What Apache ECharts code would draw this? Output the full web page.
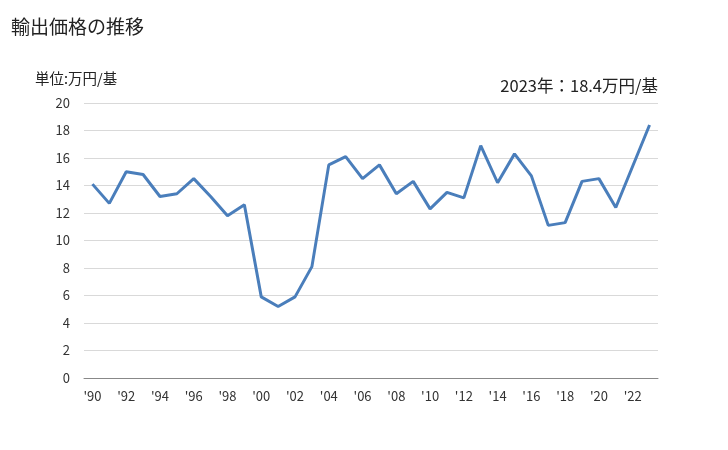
<!DOCTYPE html>
<html><head><meta charset="utf-8">
<script src="https://cdn.jsdelivr.net/npm/echarts@6/dist/echarts.min.js"></script>
<style>html,body{margin:0;padding:0;background:#fff}#c{width:728px;height:450px}</style>
</head><body><div id="c"></div>
<script>
const years = ["'90","'91","'92","'93","'94","'95","'96","'97","'98","'99","'00","'01","'02","'03","'04","'05","'06","'07","'08","'09","'10","'11","'12","'13","'14","'15","'16","'17","'18","'19","'20","'21","'22","'23"];
const values = [14.1,12.7,15.0,14.8,13.2,13.4,14.5,13.2,11.8,12.6,5.9,5.2,5.9,8.1,15.5,16.1,14.5,15.5,13.4,14.3,12.3,13.5,13.1,16.9,14.2,16.3,14.7,11.1,11.3,14.3,14.5,12.4,15.4,18.4];
const font = '"Noto Sans CJK JP","Noto Sans",sans-serif';
const chart = echarts.init(document.getElementById('c'));
chart.setOption({
  animation:false,
  textStyle:{fontFamily:font},
  title:[
    {text:'輸出価格の推移',left:11,top:17,padding:0,textStyle:{fontSize:19,fontWeight:'normal',color:'#222',fontFamily:font}},
    {text:'単位:万円/基',left:35,top:71,padding:0,textStyle:{fontSize:14.5,fontWeight:'normal',color:'#222',fontFamily:font}},
    {text:'2023年：18.4万円/基',right:70,top:77,padding:0,textStyle:{fontSize:16.5,fontWeight:'normal',color:'#222',fontFamily:font}}
  ],
  grid:{left:84,right:70,top:103,bottom:72},
  xAxis:{type:'category',data:years,boundaryGap:true,
    axisLine:{lineStyle:{color:'#888',width:1}},axisTick:{show:false},
    axisLabel:{interval:1,color:'#333',fontSize:13,margin:12,fontFamily:font}},
  yAxis:{type:'value',min:0,max:20,interval:2,
    axisLine:{show:false},axisTick:{show:false},
    splitLine:{lineStyle:{color:'#d9d9d9',width:1}},
    axisLabel:{color:'#333',fontSize:13,margin:14,fontFamily:font}},
  series:[{type:'line',data:values,symbol:'none',lineStyle:{color:'#4a7ebb',width:3},itemStyle:{color:'#4a7ebb'}}]
});
</script></body></html>
